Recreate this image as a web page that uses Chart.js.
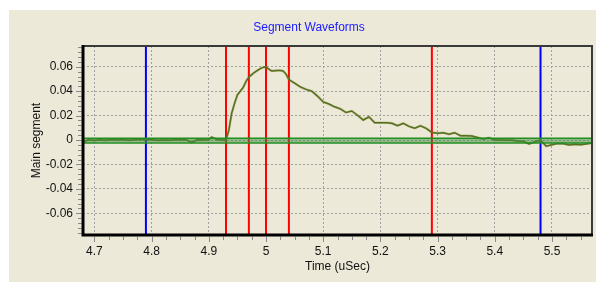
<!DOCTYPE html>
<html>
<head>
<meta charset="utf-8">
<script src="https://cdn.jsdelivr.net/npm/chart.js@4.4.0/dist/chart.umd.min.js"></script>
<style>
  html, body { margin: 0; padding: 0; background: #fff; }
  #panel { position: absolute; left: 9px; top: 10px; width: 587px; height: 272px; background: #ECE9D8; }
  canvas { display: block; }
</style>
</head>
<body>
<div id="panel"><canvas id="chart" width="587" height="272"></canvas></div>
<script>
// Data
const times = [
  4.68, 4.69, 4.70, 4.71, 4.72, 4.73, 4.74, 4.75, 4.76, 4.77, 4.78, 4.79, 4.80,
  4.81, 4.82, 4.83, 4.84, 4.85, 4.86, 4.87, 4.88, 4.89, 4.90, 4.905, 4.915, 4.925,
  4.930, 4.935, 4.940, 4.945, 4.950, 4.955, 4.960, 4.965, 4.970, 4.975, 4.980, 4.985,
  4.990, 4.995, 5.000, 5.005, 5.010, 5.015, 5.020, 5.025, 5.030, 5.035, 5.040, 5.050,
  5.060, 5.070, 5.080, 5.090, 5.100, 5.110, 5.120, 5.130, 5.140, 5.150, 5.160, 5.170,
  5.180, 5.190, 5.200, 5.210, 5.220, 5.230, 5.240, 5.250, 5.260, 5.270, 5.280, 5.290,
  5.300, 5.310, 5.320, 5.330, 5.340, 5.350, 5.360, 5.370, 5.380, 5.390, 5.400, 5.410,
  5.420, 5.430, 5.440, 5.450, 5.460, 5.470, 5.480, 5.490, 5.500, 5.510, 5.520, 5.530,
  5.540, 5.550, 5.560, 5.570
];
const mainSegment = [
  -0.0015, 0.0002, -0.0003, 0.0003, -0.0002, 0.0004, 0.0000, 0.0005, -0.0002, 0.0003, 0.0005, 0.0004, 0.0002,
  -0.0002, 0.0000, -0.0001, 0.0002, 0.0005, 0.0003, -0.0020, 0.0002, 0.0000, 0.0003, 0.0024, 0.0003, 0.0000,
  0.0000, 0.0080, 0.0220, 0.0300, 0.0370, 0.0400, 0.0430, 0.0480, 0.0515, 0.0535, 0.0555, 0.0570,
  0.0585, 0.0595, 0.0597, 0.0580, 0.0565, 0.0568, 0.0570, 0.0570, 0.0565, 0.0540, 0.0495, 0.0465,
  0.0435, 0.0415, 0.0400, 0.0360, 0.0312, 0.0295, 0.0272, 0.0255, 0.0225, 0.0238, 0.0203, 0.0164,
  0.0190, 0.0142, 0.0142, 0.0142, 0.0137, 0.0117, 0.0137, 0.0112, 0.0096, 0.0117, 0.0096, 0.0062,
  0.0055, 0.0060, 0.0047, 0.0060, 0.0035, 0.0035, 0.0033, 0.0020, 0.0008, 0.0019, 0.0000, 0.0000,
  -0.0001, -0.0001, -0.0008, -0.0010, -0.0033, -0.0014, -0.0003, -0.0050, -0.0038, -0.0028, -0.0030, -0.0040,
  -0.0035, -0.0038, -0.0032, -0.0025
];

const redMarkers = [4.93, 4.97, 5.00, 5.04, 5.29];
const blueMarkers = [4.79, 5.48];
const bandHigh = 0.0014;
const bandLow = -0.0025;

const xMin = 4.68, xMax = 5.57;
const yMin = -0.0778, yMax = 0.077;
const xTicks = [4.7, 4.8, 4.9, 5.0, 5.1, 5.2, 5.3, 5.4, 5.5];
const xTickLabels = ['4.7', '4.8', '4.9', '5', '5.1', '5.2', '5.3', '5.4', '5.5'];
const yTicks = [-0.06, -0.04, -0.02, 0, 0.02, 0.04, 0.06];
const yTickLabels = ['-0.06', '-0.04', '-0.02', '0', '0.02', '0.04', '0.06'];
const xMinorStep = 0.025;
const yMinorStep = 0.004;

Chart.defaults.font.family = '"Liberation Sans", Arial, sans-serif';
Chart.defaults.font.size = 12;
Chart.defaults.color = '#111';

const wavePoints = times.map((t, i) => ({ x: t, y: mainSegment[i] }));

function markerSet(t, color) {
  return {
    data: [{ x: t, y: yMin }, { x: t, y: yMax }],
    borderColor: color, borderWidth: 2, pointRadius: 0, fill: false
  };
}

const datasets = [
  {
    data: [{ x: xMin, y: bandHigh }, { x: xMax, y: bandHigh }],
    borderColor: '#1f8f1f', borderWidth: 1.5, pointRadius: 0,
    fill: '+1', backgroundColor: 'rgba(60,140,60,0.5)'
  },
  {
    data: [{ x: xMin, y: bandLow }, { x: xMax, y: bandLow }],
    borderColor: '#1f8f1f', borderWidth: 1.5, pointRadius: 0, fill: false
  },
  {
    data: wavePoints, borderColor: 'rgba(140,110,50,0.4)', borderWidth: 2.4,
    pointRadius: 0, fill: false, tension: 0
  },
  {
    data: wavePoints, borderColor: '#2e760c', borderWidth: 1.5,
    pointRadius: 0, fill: false, tension: 0
  }
];
redMarkers.forEach(t => datasets.push(markerSet(t, '#ff0000')));
blueMarkers.forEach(t => datasets.push(markerSet(t, '#0000ff')));

// ticks, frame and title
const decorations = {
  id: 'decorations',
  afterDraw(chart) {
    const { ctx, chartArea: a } = chart;
    const xs = chart.scales.x, ys = chart.scales.y;
    ctx.save();
    ctx.strokeStyle = '#8a8a8a';
    ctx.lineWidth = 1;
    ctx.beginPath();
    for (let k = Math.ceil(xMin / xMinorStep); k * xMinorStep <= xMax + 1e-9; k++) {
      const v = k * xMinorStep;
      const major = Math.abs(v * 10 - Math.round(v * 10)) < 1e-6;
      const px = Math.round(xs.getPixelForValue(v)) + 0.5;
      ctx.moveTo(px, a.bottom + 1.5);
      ctx.lineTo(px, a.bottom + (major ? 7 : 5));
    }
    for (let k = Math.ceil(yMin / yMinorStep); k * yMinorStep <= yMax + 1e-9; k++) {
      const v = k * yMinorStep;
      const major = Math.abs(v / 0.02 - Math.round(v / 0.02)) < 1e-6;
      const py = Math.round(ys.getPixelForValue(v)) + 0.5;
      ctx.moveTo(a.left - 1.5, py);
      ctx.lineTo(a.left - (major ? 7 : 5), py);
    }
    ctx.stroke();

    // axis frame: thick black left/bottom, thin dark top/right
    ctx.strokeStyle = '#3a3a3a';
    ctx.lineWidth = 2;
    ctx.beginPath();
    ctx.moveTo(a.left, a.top);
    ctx.lineTo(a.right, a.top);
    ctx.lineTo(a.right, a.bottom);
    ctx.stroke();
    ctx.strokeStyle = '#000';
    ctx.lineWidth = 3;
    ctx.beginPath();
    ctx.moveTo(a.left, a.top - 1);
    ctx.lineTo(a.left, a.bottom);
    ctx.lineTo(a.right + 1, a.bottom);
    ctx.stroke();

    ctx.fillStyle = '#1a1aff';
    ctx.font = '12px "Liberation Sans", Arial, sans-serif';
    ctx.textAlign = 'center';
    ctx.textBaseline = 'middle';
    ctx.fillText('Segment Waveforms', 300, 18);
    ctx.restore();
  }
};

const gridStyle = { color: '#a0a0a0', drawTicks: false, lineWidth: 1 };
const borderStyle = { display: false, dash: [2, 2] };

new Chart(document.getElementById('chart'), {
  type: 'line',
  data: { datasets },
  options: {
    responsive: false,
    animation: false,
    layout: { padding: { left: 0, top: 36, right: 4, bottom: 0 } },
    plugins: { legend: { display: false }, tooltip: { enabled: false } },
    scales: {
      x: {
        type: 'linear', min: xMin, max: xMax,
        grid: gridStyle,
        border: borderStyle,
        afterBuildTicks: s => { s.ticks = xTicks.map(v => ({ value: v })); },
        afterFit: s => { s.height = 47; },
        ticks: {
          padding: 9, maxRotation: 0, autoSkip: false,
          callback: (v, i) => xTickLabels[i]
        },
        title: { display: true, text: 'Time (uSec)', padding: { top: 0, bottom: 8 } }
      },
      y: {
        type: 'linear', min: yMin, max: yMax,
        grid: gridStyle,
        border: borderStyle,
        afterBuildTicks: s => { s.ticks = yTicks.map(v => ({ value: v })); },
        afterFit: s => { s.width = 74; },
        ticks: {
          padding: 10, autoSkip: false,
          callback: (v, i) => yTickLabels[i]
        },
        title: { display: true, text: 'Main segment', padding: { top: 20, bottom: 0 } }
      }
    }
  },
  plugins: [decorations]
});
</script>
</body>
</html>
